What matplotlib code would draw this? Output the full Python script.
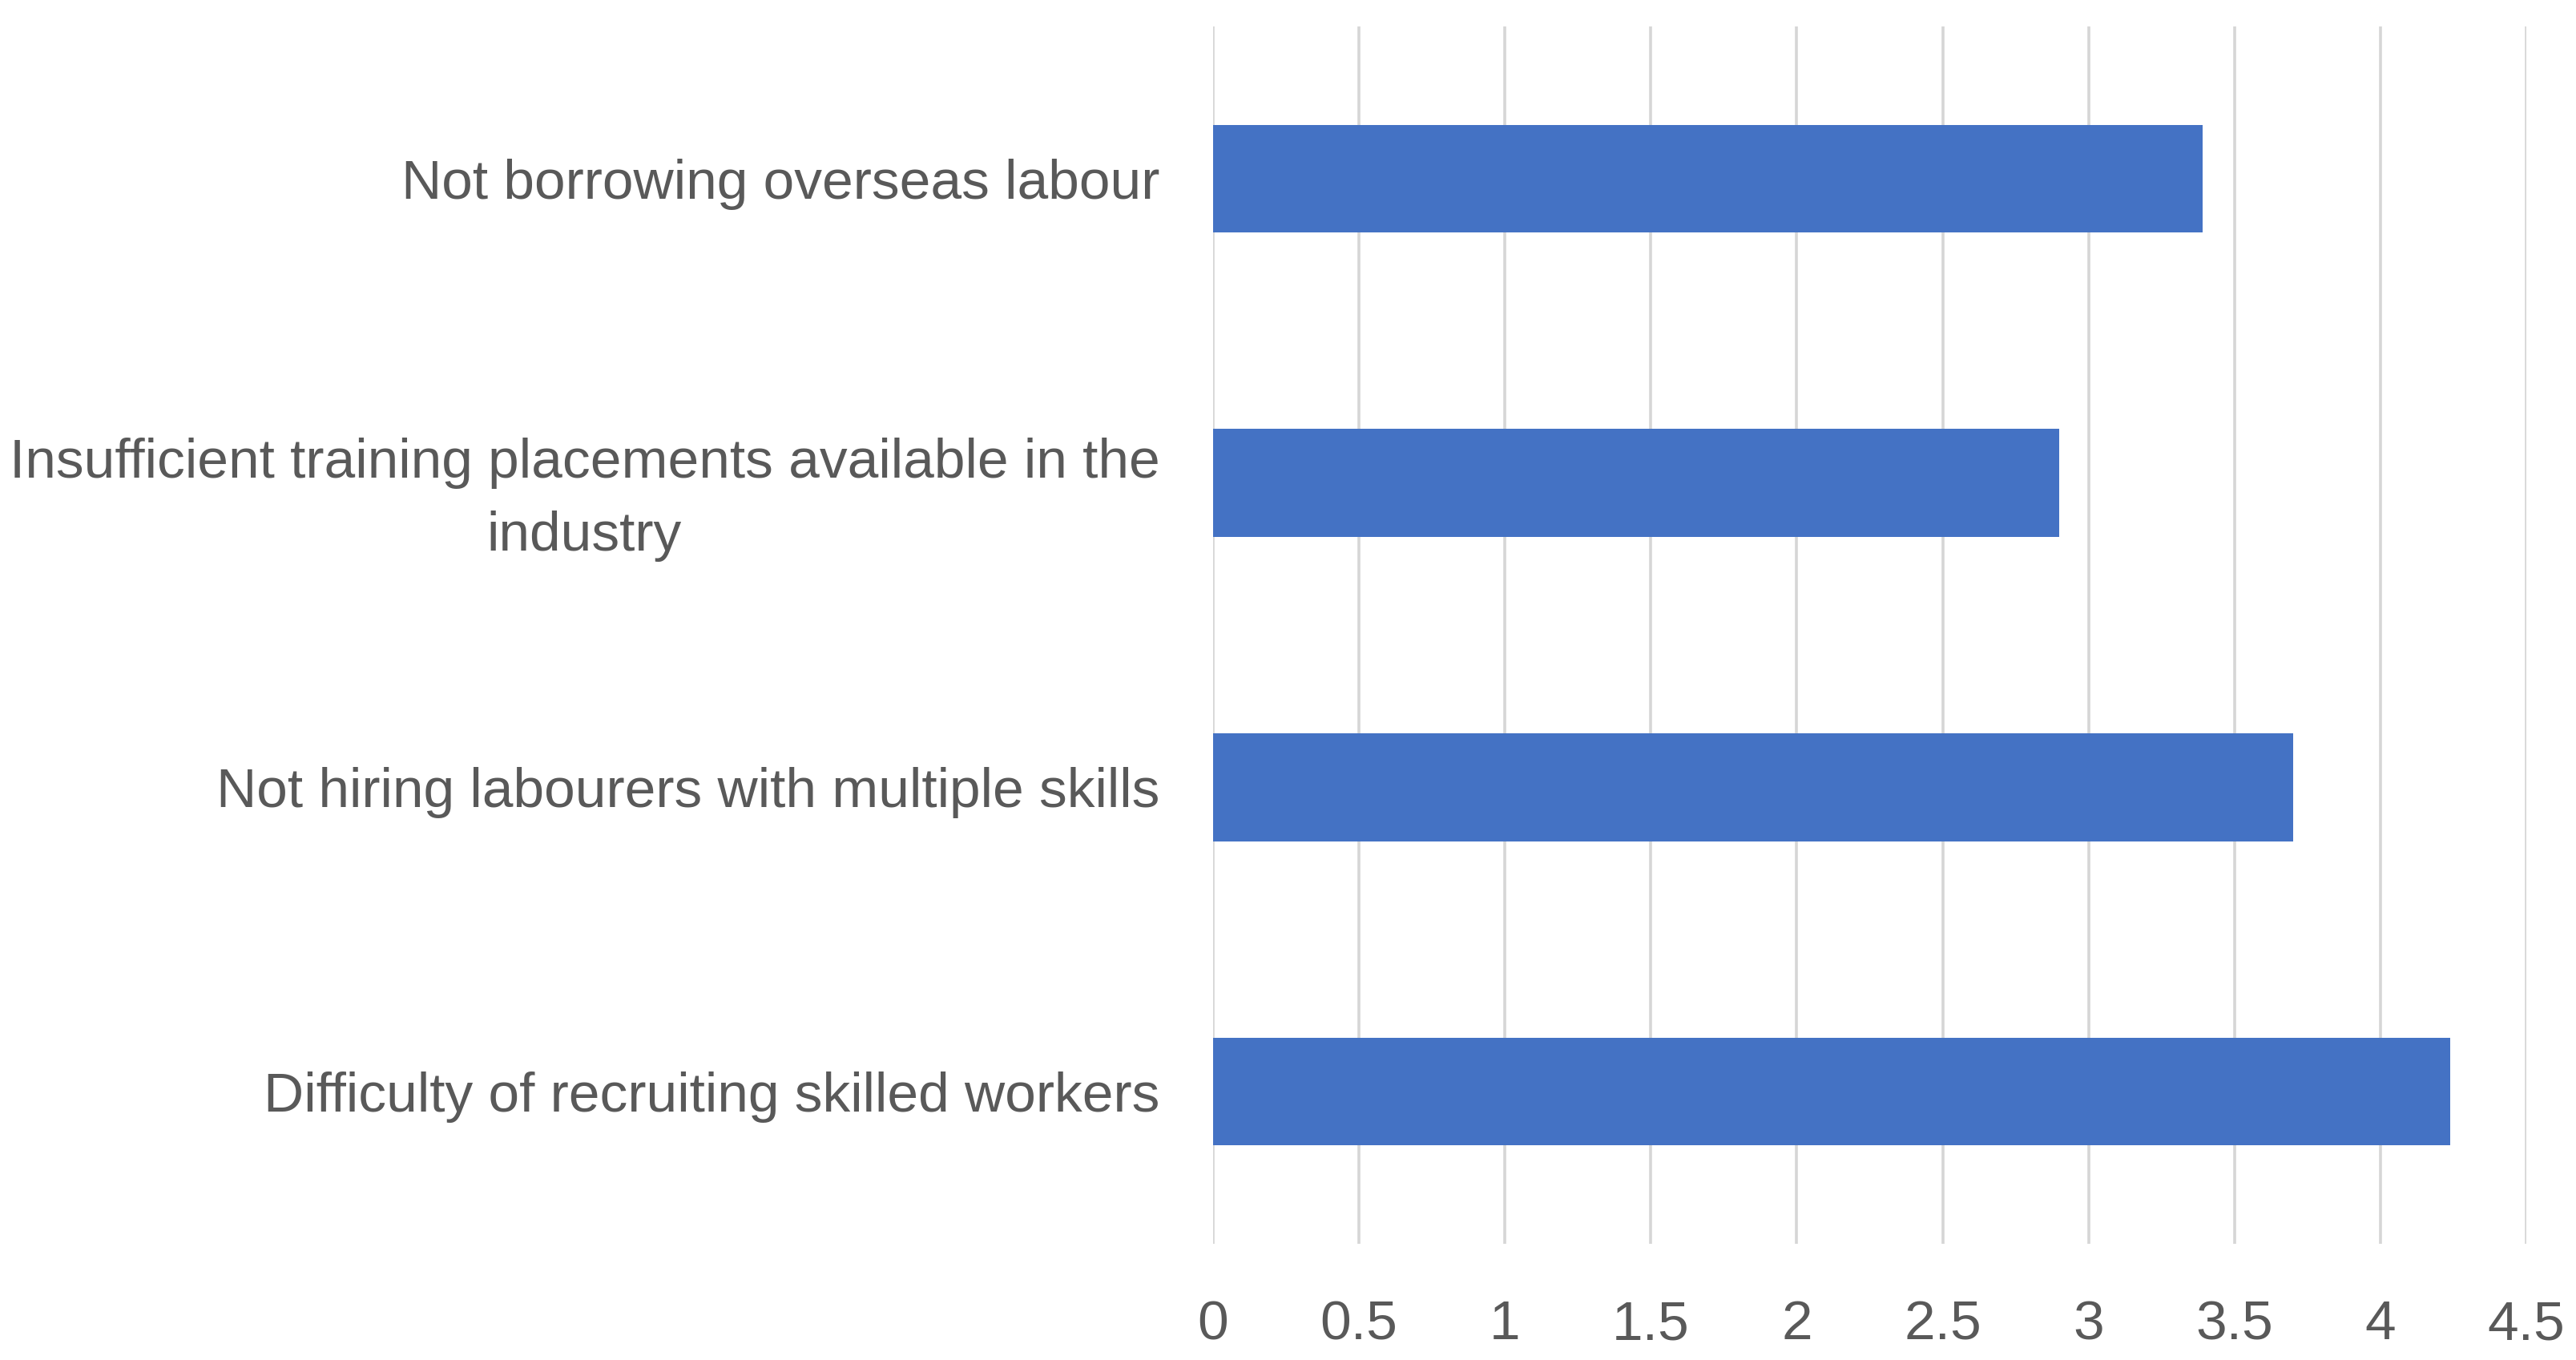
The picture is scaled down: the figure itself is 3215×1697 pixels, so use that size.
import matplotlib
matplotlib.use("Agg")
import matplotlib.pyplot as plt
import matplotlib.transforms as mtransforms
from matplotlib import font_manager

categories = [
    "Difficulty of recruiting skilled workers",
    "Not hiring labourers with multiple skills",
    "Insufficient training placements available in the\nindustry",
    "Not borrowing overseas labour",
]
values = [4.24, 3.70, 2.90, 3.39]
xticks = [0, 0.5, 1, 1.5, 2, 2.5, 3, 3.5, 4, 4.5]
xticklabels = ["0", "0.5", "1", "1.5", "2", "2.5", "3", "3.5", "4", "4.5"]

avail = {f.name for f in font_manager.fontManager.ttflist}
fam = "Liberation Sans Narrow" if "Liberation Sans Narrow" in avail else "Liberation Sans"
plt.rcParams['font.family'] = [fam, 'DejaVu Sans']

text_color = "#595959"
bar_color = "#4472C4"

fig = plt.figure(figsize=(16.075, 8.485), dpi=200)
ax = fig.add_axes([0.4709, 0.0855, 0.5098, 0.8950])

y = list(range(len(categories)))
ax.barh(y, values, height=0.355, color=bar_color, zorder=3)
ax.set_ylim(-0.5, len(categories) - 0.5)
ax.set_xlim(0, 4.5)
ax.set_yticks(y)
ax.set_yticklabels(categories, fontsize=25, color=text_color, linespacing=1.55)
for lab in ax.get_yticklabels():
    lab.set_multialignment('center')
    if "\n" in lab.get_text():
        lab.set_transform(lab.get_transform() +
                          mtransforms.ScaledTranslation(0, 5 / 72, fig.dpi_scale_trans))
ax.set_xticks(xticks)
ax.set_xticklabels(xticklabels, fontsize=25, color=text_color)
ax.tick_params(axis='both', length=0)
ax.tick_params(axis='y', pad=24)
ax.tick_params(axis='x', pad=25)
ax.grid(axis='x', color="#d6d6d6", linewidth=1.3, zorder=0)
ax.grid(axis='y', visible=False)
for s in ax.spines.values():
    s.set_visible(False)

fig.savefig("out.png", dpi=200, facecolor="white")
